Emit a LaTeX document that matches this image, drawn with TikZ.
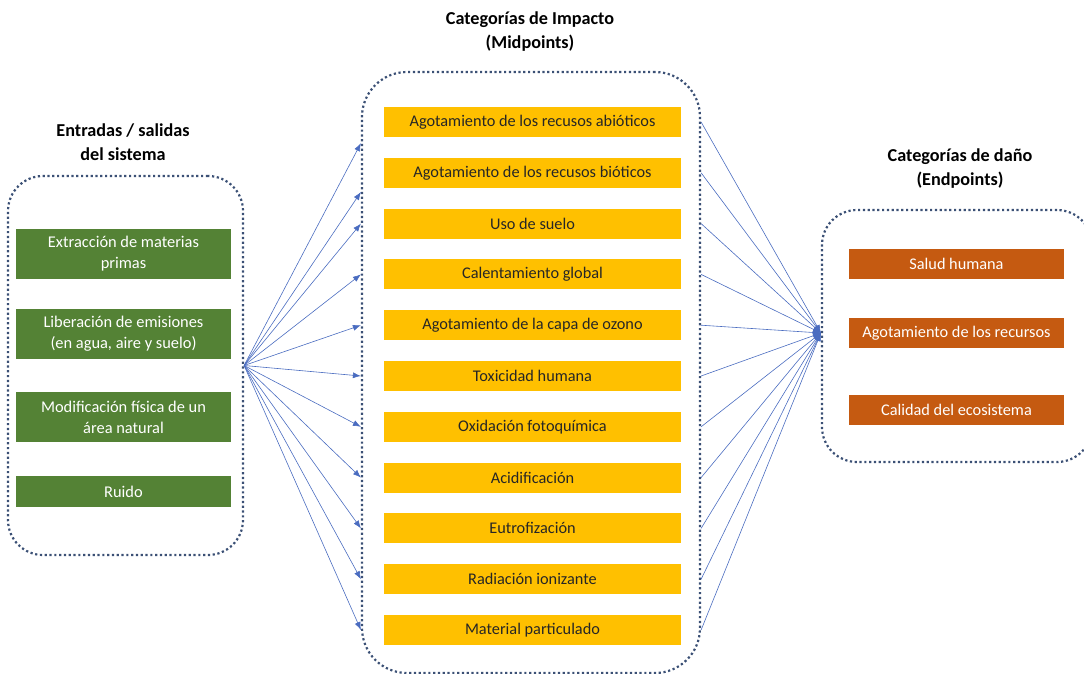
\documentclass[tikz,border=0pt]{standalone}
\usepackage{fontspec}
\setmainfont{Carlito}
\usetikzlibrary{positioning, arrows.meta}
\definecolor{grpLine}{HTML}{3B5075}
\definecolor{inGreen}{HTML}{548235}
\definecolor{midYellow}{HTML}{FFC000}
\definecolor{midText}{HTML}{262626}
\definecolor{endOrange}{HTML}{C55A11}
\definecolor{lnkBlue}{HTML}{4A6CC0}

\begin{document}
\begin{tikzpicture}[x=1pt, y=-1pt, grp/.style={draw=grpLine, line width=2.2pt, dash pattern=on 2.2pt off 2.6pt, inner sep=0pt},ttl/.style={font=\fontsize{18.2}{24}\selectfont\bfseries, align=center},inb/.style={fill=inGreen, text=white, minimum width=215pt, inner sep=0pt, align=center, font=\fontsize{16.4}{21}\selectfont},midb/.style={fill=midYellow, text=midText, minimum width=297pt, minimum height=30pt, inner sep=0pt, font=\fontsize{16.3}{18}\selectfont},endb/.style={fill=endOrange, text=white, minimum width=215pt, minimum height=30pt, inner sep=0pt, font=\fontsize{16.3}{18}\selectfont},lnk/.style={draw=lnkBlue, line width=0.6pt, -{Latex[length=8pt, width=6pt]}}]
\useasboundingbox (0,0) rectangle (1084,674);
\clip (0,0) rectangle (1084,674);
% containers
\node[grp, rounded corners=35pt, minimum width=235pt, minimum height=379pt] (ing) at (125.5,365.5) {};
\node[grp, rounded corners=45pt, minimum width=338pt, minimum height=601pt] (midg) at (531,372.5) {};
\node[grp, rounded corners=35pt, minimum width=270pt, minimum height=252pt] (endg) at (957,336) {};
% titles
\node[ttl] (tin) at (123,142) {Entradas / salidas\\del sistema};
\node[ttl] (tmid) at (530,32) {Categorías de Impacto\\(Midpoints)};
\node[ttl] (tend) at (960,169) {Categorías de daño\\(Endpoints)};
% inputs / outputs
\node[inb, minimum height=50pt] (i1) at (123.5,254) {Extracción de materias\\primas};
\node[inb, minimum height=50pt] (i2) at (123.5,334) {Liberación de emisiones\\(en agua, aire y suelo)};
\node[inb, minimum height=50pt] (i3) at (123.5,417) {Modificación física de un\\área natural};
\node[inb, minimum height=31pt] (i4) at (123.5,491.5) {Ruido};
% midpoints
\node[midb] (m1) at (532.5,122) {Agotamiento de los recusos abióticos};
\node[midb, below=20.4pt of m1] (m2) {Agotamiento de los recusos bióticos};
\node[midb, below=20.4pt of m2] (m3) {Uso de suelo};
\node[midb, below=20.4pt of m3] (m4) {Calentamiento global};
\node[midb, below=20.4pt of m4] (m5) {Agotamiento de la capa de ozono};
\node[midb, below=20.4pt of m5] (m6) {Toxicidad humana};
\node[midb, below=20.4pt of m6] (m7) {Oxidación fotoquímica};
\node[midb, below=20.4pt of m7] (m8) {Acidificación};
\node[midb, below=20.4pt of m8] (m9) {Eutrofización};
\node[midb, below=20.4pt of m9] (m10) {Radiación ionizante};
\node[midb, below=20.4pt of m10] (m11) {Material particulado};
% endpoints
\node[endb] (e1) at (956.5,264) {Salud humana};
\node[endb] (e2) at (956.5,333) {Agotamiento de los recursos};
\node[endb] (e3) at (956.5,410) {Calidad del ecosistema};
% links inputs -> midpoints
\draw[lnk] (ing.east) -- ([yshift=-6pt]midg.west |- m1.south);
\draw[lnk] (ing.east) -- ([yshift=-4pt]midg.west |- m2.south);
\draw[lnk] (ing.east) -- (midg.west |- m3);
\draw[lnk] (ing.east) -- (midg.west |- m4);
\draw[lnk] (ing.east) -- (midg.west |- m5);
\draw[lnk] (ing.east) -- (midg.west |- m6);
\draw[lnk] (ing.east) -- (midg.west |- m7);
\draw[lnk] (ing.east) -- (midg.west |- m8);
\draw[lnk] (ing.east) -- (midg.west |- m9);
\draw[lnk] (ing.east) -- (midg.west |- m10);
\draw[lnk] (ing.east) -- (midg.west |- m11);
% links midpoints -> endpoints
\draw[lnk] (midg.east |- m1) -- (endg.west |- e2);
\draw[lnk] (midg.east |- m2) -- (endg.west |- e2);
\draw[lnk] (midg.east |- m3) -- (endg.west |- e2);
\draw[lnk] (midg.east |- m4) -- (endg.west |- e2);
\draw[lnk] (midg.east |- m5) -- (endg.west |- e2);
\draw[lnk] (midg.east |- m6) -- (endg.west |- e2);
\draw[lnk] (midg.east |- m7) -- (endg.west |- e2);
\draw[lnk] (midg.east |- m8) -- (endg.west |- e2);
\draw[lnk] (midg.east |- m9) -- (endg.west |- e2);
\draw[lnk] (midg.east |- m10) -- (endg.west |- e2);
\draw[lnk] (midg.east |- m11) -- (endg.west |- e2);
\end{tikzpicture}
\end{document}
